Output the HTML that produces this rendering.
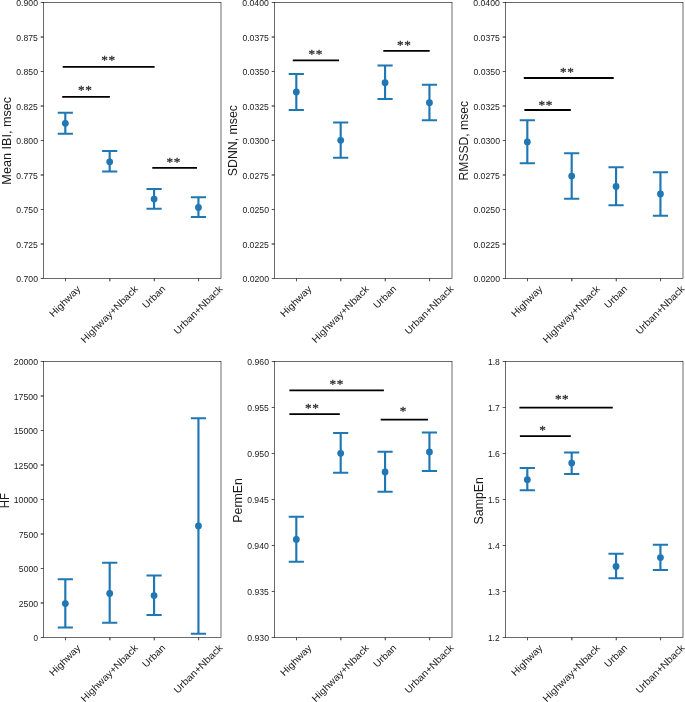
<!DOCTYPE html>
<html><head><meta charset="utf-8"><title>HRV metrics</title>
<style>
html,body{margin:0;padding:0;background:#fff;width:685px;height:702px;overflow:hidden}
svg{display:block;will-change:transform}
text{font-family:"Liberation Sans",sans-serif;fill:#1a1a1a}
.ast text{font-family:"Liberation Serif",serif;fill:#2a2a2a;stroke:#2a2a2a;stroke-width:0.3px;stroke-linejoin:round}
</style></head><body>
<svg width="685" height="702" viewBox="0 0 685 702">
<rect width="685" height="702" fill="#fff"/>
<rect x="43.5" y="2.5" width="177.5" height="276" fill="none" stroke="#000" stroke-width="0.58"/>
<path d="M65.49 278.5v2.8" stroke="#000" stroke-width="0.67"/>
<path d="M109.86 278.5v2.8" stroke="#000" stroke-width="0.87"/>
<path d="M154.24 278.5v2.8" stroke="#000" stroke-width="0.81"/>
<path d="M198.61 278.5v2.8" stroke="#000" stroke-width="0.73"/>
<path d="M43.5 2.5h-2.8" stroke="#000" stroke-width="0.66"/>
<path d="M43.5 37h-2.8" stroke="#000" stroke-width="0.95"/>
<path d="M43.5 71.5h-2.8" stroke="#000" stroke-width="0.66"/>
<path d="M43.5 106h-2.8" stroke="#000" stroke-width="0.95"/>
<path d="M43.5 140.5h-2.8" stroke="#000" stroke-width="0.66"/>
<path d="M43.5 175h-2.8" stroke="#000" stroke-width="0.95"/>
<path d="M43.5 209.5h-2.8" stroke="#000" stroke-width="0.66"/>
<path d="M43.5 244h-2.8" stroke="#000" stroke-width="0.95"/>
<path d="M43.5 278.5h-2.8" stroke="#000" stroke-width="0.66"/>
<rect x="274.5" y="2.5" width="177.5" height="276" fill="none" stroke="#000" stroke-width="0.58"/>
<path d="M296.49 278.5v2.8" stroke="#000" stroke-width="0.67"/>
<path d="M340.86 278.5v2.8" stroke="#000" stroke-width="0.87"/>
<path d="M385.24 278.5v2.8" stroke="#000" stroke-width="0.81"/>
<path d="M429.61 278.5v2.8" stroke="#000" stroke-width="0.73"/>
<path d="M274.5 2.5h-2.8" stroke="#000" stroke-width="0.66"/>
<path d="M274.5 37h-2.8" stroke="#000" stroke-width="0.95"/>
<path d="M274.5 71.5h-2.8" stroke="#000" stroke-width="0.66"/>
<path d="M274.5 106h-2.8" stroke="#000" stroke-width="0.95"/>
<path d="M274.5 140.5h-2.8" stroke="#000" stroke-width="0.66"/>
<path d="M274.5 175h-2.8" stroke="#000" stroke-width="0.95"/>
<path d="M274.5 209.5h-2.8" stroke="#000" stroke-width="0.66"/>
<path d="M274.5 244h-2.8" stroke="#000" stroke-width="0.95"/>
<path d="M274.5 278.5h-2.8" stroke="#000" stroke-width="0.66"/>
<rect x="505.5" y="2.5" width="177.5" height="276" fill="none" stroke="#000" stroke-width="0.58"/>
<path d="M527.49 278.5v2.8" stroke="#000" stroke-width="0.67"/>
<path d="M571.86 278.5v2.8" stroke="#000" stroke-width="0.87"/>
<path d="M616.24 278.5v2.8" stroke="#000" stroke-width="0.81"/>
<path d="M660.61 278.5v2.8" stroke="#000" stroke-width="0.73"/>
<path d="M505.5 2.5h-2.8" stroke="#000" stroke-width="0.66"/>
<path d="M505.5 37h-2.8" stroke="#000" stroke-width="0.95"/>
<path d="M505.5 71.5h-2.8" stroke="#000" stroke-width="0.66"/>
<path d="M505.5 106h-2.8" stroke="#000" stroke-width="0.95"/>
<path d="M505.5 140.5h-2.8" stroke="#000" stroke-width="0.66"/>
<path d="M505.5 175h-2.8" stroke="#000" stroke-width="0.95"/>
<path d="M505.5 209.5h-2.8" stroke="#000" stroke-width="0.66"/>
<path d="M505.5 244h-2.8" stroke="#000" stroke-width="0.95"/>
<path d="M505.5 278.5h-2.8" stroke="#000" stroke-width="0.66"/>
<rect x="43.5" y="361.5" width="177.5" height="276" fill="none" stroke="#000" stroke-width="0.58"/>
<path d="M65.49 637.5v2.8" stroke="#000" stroke-width="0.67"/>
<path d="M109.86 637.5v2.8" stroke="#000" stroke-width="0.87"/>
<path d="M154.24 637.5v2.8" stroke="#000" stroke-width="0.81"/>
<path d="M198.61 637.5v2.8" stroke="#000" stroke-width="0.73"/>
<path d="M43.5 361.5h-2.8" stroke="#000" stroke-width="0.66"/>
<path d="M43.5 396h-2.8" stroke="#000" stroke-width="0.95"/>
<path d="M43.5 430.5h-2.8" stroke="#000" stroke-width="0.66"/>
<path d="M43.5 465h-2.8" stroke="#000" stroke-width="0.95"/>
<path d="M43.5 499.5h-2.8" stroke="#000" stroke-width="0.66"/>
<path d="M43.5 534h-2.8" stroke="#000" stroke-width="0.95"/>
<path d="M43.5 568.5h-2.8" stroke="#000" stroke-width="0.66"/>
<path d="M43.5 603h-2.8" stroke="#000" stroke-width="0.95"/>
<path d="M43.5 637.5h-2.8" stroke="#000" stroke-width="0.66"/>
<rect x="274.5" y="361.5" width="177.5" height="276" fill="none" stroke="#000" stroke-width="0.58"/>
<path d="M296.49 637.5v2.8" stroke="#000" stroke-width="0.67"/>
<path d="M340.86 637.5v2.8" stroke="#000" stroke-width="0.87"/>
<path d="M385.24 637.5v2.8" stroke="#000" stroke-width="0.81"/>
<path d="M429.61 637.5v2.8" stroke="#000" stroke-width="0.73"/>
<path d="M274.5 361.5h-2.8" stroke="#000" stroke-width="0.66"/>
<path d="M274.5 407.5h-2.8" stroke="#000" stroke-width="0.66"/>
<path d="M274.5 453.5h-2.8" stroke="#000" stroke-width="0.66"/>
<path d="M274.5 499.5h-2.8" stroke="#000" stroke-width="0.66"/>
<path d="M274.5 545.5h-2.8" stroke="#000" stroke-width="0.66"/>
<path d="M274.5 591.5h-2.8" stroke="#000" stroke-width="0.66"/>
<path d="M274.5 637.5h-2.8" stroke="#000" stroke-width="0.66"/>
<rect x="505.5" y="361.5" width="177.5" height="276" fill="none" stroke="#000" stroke-width="0.58"/>
<path d="M527.49 637.5v2.8" stroke="#000" stroke-width="0.67"/>
<path d="M571.86 637.5v2.8" stroke="#000" stroke-width="0.87"/>
<path d="M616.24 637.5v2.8" stroke="#000" stroke-width="0.81"/>
<path d="M660.61 637.5v2.8" stroke="#000" stroke-width="0.73"/>
<path d="M505.5 361.5h-2.8" stroke="#000" stroke-width="0.66"/>
<path d="M505.5 407.5h-2.8" stroke="#000" stroke-width="0.66"/>
<path d="M505.5 453.5h-2.8" stroke="#000" stroke-width="0.66"/>
<path d="M505.5 499.5h-2.8" stroke="#000" stroke-width="0.66"/>
<path d="M505.5 545.5h-2.8" stroke="#000" stroke-width="0.66"/>
<path d="M505.5 591.5h-2.8" stroke="#000" stroke-width="0.66"/>
<path d="M505.5 637.5h-2.8" stroke="#000" stroke-width="0.66"/>
<path d="M65.32 112.7V133.7M109.69 151V171.6M154.07 189V208.7M198.44 197.2V216.9" stroke="#1f77b4" stroke-width="2.15" fill="none"/>
<path d="M57.72 112.7h15.2M57.72 133.7h15.2M102.09 151h15.2M102.09 171.6h15.2M146.47 189h15.2M146.47 208.7h15.2M190.84 197.2h15.2M190.84 216.9h15.2" stroke="#1f77b4" stroke-width="2.0" fill="none"/>
<g fill="#1f77b4"><circle cx="65.32" cy="123.3" r="3.4"/><circle cx="109.69" cy="161.8" r="3.4"/><circle cx="154.07" cy="199.1" r="3.4"/><circle cx="198.44" cy="207.5" r="3.4"/></g>
<path d="M296.32 74.1V110.1M340.69 122.6V157.8M385.07 65.4V99M429.44 84.8V120.2" stroke="#1f77b4" stroke-width="2.15" fill="none"/>
<path d="M288.72 74.1h15.2M288.72 110.1h15.2M333.09 122.6h15.2M333.09 157.8h15.2M377.47 65.4h15.2M377.47 99h15.2M421.84 84.8h15.2M421.84 120.2h15.2" stroke="#1f77b4" stroke-width="2.0" fill="none"/>
<g fill="#1f77b4"><circle cx="296.32" cy="91.9" r="3.4"/><circle cx="340.69" cy="140.3" r="3.4"/><circle cx="385.07" cy="82.7" r="3.4"/><circle cx="429.44" cy="102.7" r="3.4"/></g>
<path d="M527.32 120.15V163.2M571.69 153.3V198.7M616.07 167.2V205.3M660.44 172.2V215.8" stroke="#1f77b4" stroke-width="2.15" fill="none"/>
<path d="M519.72 120.15h15.2M519.72 163.2h15.2M564.09 153.3h15.2M564.09 198.7h15.2M608.47 167.2h15.2M608.47 205.3h15.2M652.84 172.2h15.2M652.84 215.8h15.2" stroke="#1f77b4" stroke-width="2.0" fill="none"/>
<g fill="#1f77b4"><circle cx="527.32" cy="142" r="3.4"/><circle cx="571.69" cy="176.1" r="3.4"/><circle cx="616.07" cy="186.4" r="3.4"/><circle cx="660.44" cy="193.9" r="3.4"/></g>
<path d="M65.32 579.2V627.6M109.69 562.7V622.7M154.07 575.4V615M198.44 418.3V633.7" stroke="#1f77b4" stroke-width="2.15" fill="none"/>
<path d="M57.72 579.2h15.2M57.72 627.6h15.2M102.09 562.7h15.2M102.09 622.7h15.2M146.47 575.4h15.2M146.47 615h15.2M190.84 418.3h15.2M190.84 633.7h15.2" stroke="#1f77b4" stroke-width="2.0" fill="none"/>
<g fill="#1f77b4"><circle cx="65.32" cy="603.6" r="3.4"/><circle cx="109.69" cy="593.4" r="3.4"/><circle cx="154.07" cy="595.6" r="3.4"/><circle cx="198.44" cy="526" r="3.4"/></g>
<path d="M296.32 516.7V561.8M340.69 433V472.8M385.07 451.7V491.7M429.44 432.6V470.9" stroke="#1f77b4" stroke-width="2.15" fill="none"/>
<path d="M288.72 516.7h15.2M288.72 561.8h15.2M333.09 433h15.2M333.09 472.8h15.2M377.47 451.7h15.2M377.47 491.7h15.2M421.84 432.6h15.2M421.84 470.9h15.2" stroke="#1f77b4" stroke-width="2.0" fill="none"/>
<g fill="#1f77b4"><circle cx="296.32" cy="539.5" r="3.4"/><circle cx="340.69" cy="453.3" r="3.4"/><circle cx="385.07" cy="471.9" r="3.4"/><circle cx="429.44" cy="451.9" r="3.4"/></g>
<path d="M527.32 468.1V490.3M571.69 452.4V473.9M616.07 553.65V578.35M660.44 544.7V569.9" stroke="#1f77b4" stroke-width="2.15" fill="none"/>
<path d="M519.72 468.1h15.2M519.72 490.3h15.2M564.09 452.4h15.2M564.09 473.9h15.2M608.47 553.65h15.2M608.47 578.35h15.2M652.84 544.7h15.2M652.84 569.9h15.2" stroke="#1f77b4" stroke-width="2.0" fill="none"/>
<g fill="#1f77b4"><circle cx="527.32" cy="479.7" r="3.4"/><circle cx="571.69" cy="463.1" r="3.4"/><circle cx="616.07" cy="566.4" r="3.4"/><circle cx="660.44" cy="557.6" r="3.4"/></g>
<path d="M62.7 66.85H154.6M62.2 96.9H109.9M152.3 167.9H197M292.8 60.3H339M383.3 50.9H429.7M523.8 78H613.7M524.4 110H570.8M289.4 390.4H383.9M289.4 414.1H339.8M380.7 419.6H428M519.4 407.6H612.8M519.9 436.1H570.8" stroke="#000" stroke-width="1.8" fill="none"/>
<g class="ast"><text x="101.29" y="64.17" font-size="13.2" letter-spacing="0.6">**</text><text x="77.99" y="94.22" font-size="13.2" letter-spacing="0.6">**</text><text x="166.49" y="166.12" font-size="13.2" letter-spacing="0.6">**</text><text x="308.59" y="58.12" font-size="13.2" letter-spacing="0.6">**</text><text x="397.09" y="48.52" font-size="13.2" letter-spacing="0.6">**</text><text x="559.99" y="76.02" font-size="13.2" letter-spacing="0.6">**</text><text x="538.49" y="108.52" font-size="13.2" letter-spacing="0.6">**</text><text x="329.49" y="387.92" font-size="13.2" letter-spacing="0.6">**</text><text x="305.09" y="412.02" font-size="13.2" letter-spacing="0.6">**</text><text x="399.69" y="414.82" font-size="13.2" letter-spacing="0.6">*</text><text x="554.89" y="403.02" font-size="13.2" letter-spacing="0.6">**</text><text x="539.29" y="433.92" font-size="13.2" letter-spacing="0.6">*</text></g>
<text x="53.36" y="317.53" font-size="9.75" textLength="39.44" lengthAdjust="spacingAndGlyphs" transform="rotate(-45 53.36 317.53)">Highway</text>
<text x="84.77" y="343.44" font-size="9.75" textLength="76.12" lengthAdjust="spacingAndGlyphs" transform="rotate(-45 84.77 343.44)">Highway+Nback</text>
<text x="146.36" y="308.99" font-size="9.75" textLength="27.69" lengthAdjust="spacingAndGlyphs" transform="rotate(-45 146.36 308.99)">Urban</text>
<text x="177.77" y="334.9" font-size="9.75" textLength="64.24" lengthAdjust="spacingAndGlyphs" transform="rotate(-45 177.77 334.9)">Urban+Nback</text>
<text x="16.28" y="282" font-size="8.16" textLength="21.7" lengthAdjust="spacingAndGlyphs">0.700</text>
<text x="16.28" y="247.5" font-size="8.16" textLength="21.56" lengthAdjust="spacingAndGlyphs">0.725</text>
<text x="16.28" y="213" font-size="8.16" textLength="21.7" lengthAdjust="spacingAndGlyphs">0.750</text>
<text x="16.28" y="178.5" font-size="8.16" textLength="21.56" lengthAdjust="spacingAndGlyphs">0.775</text>
<text x="16.28" y="144" font-size="8.16" textLength="21.7" lengthAdjust="spacingAndGlyphs">0.800</text>
<text x="16.28" y="109.5" font-size="8.16" textLength="21.56" lengthAdjust="spacingAndGlyphs">0.825</text>
<text x="16.28" y="75" font-size="8.16" textLength="21.7" lengthAdjust="spacingAndGlyphs">0.850</text>
<text x="16.28" y="40.5" font-size="8.16" textLength="21.56" lengthAdjust="spacingAndGlyphs">0.875</text>
<text x="16.28" y="6" font-size="8.16" textLength="21.7" lengthAdjust="spacingAndGlyphs">0.900</text>
<text x="10.61" y="184.65" font-size="12.3" textLength="87.84" lengthAdjust="spacingAndGlyphs" transform="rotate(-90 10.61 184.65)">Mean IBI, msec</text>
<text x="284.36" y="317.53" font-size="9.75" textLength="39.44" lengthAdjust="spacingAndGlyphs" transform="rotate(-45 284.36 317.53)">Highway</text>
<text x="315.77" y="343.44" font-size="9.75" textLength="76.12" lengthAdjust="spacingAndGlyphs" transform="rotate(-45 315.77 343.44)">Highway+Nback</text>
<text x="377.36" y="308.99" font-size="9.75" textLength="27.69" lengthAdjust="spacingAndGlyphs" transform="rotate(-45 377.36 308.99)">Urban</text>
<text x="408.77" y="334.9" font-size="9.75" textLength="64.24" lengthAdjust="spacingAndGlyphs" transform="rotate(-45 408.77 334.9)">Urban+Nback</text>
<text x="242.4" y="282" font-size="8.16" textLength="26.6" lengthAdjust="spacingAndGlyphs">0.0200</text>
<text x="242.4" y="247.5" font-size="8.16" textLength="26.46" lengthAdjust="spacingAndGlyphs">0.0225</text>
<text x="242.4" y="213" font-size="8.16" textLength="26.6" lengthAdjust="spacingAndGlyphs">0.0250</text>
<text x="242.4" y="178.5" font-size="8.16" textLength="26.46" lengthAdjust="spacingAndGlyphs">0.0275</text>
<text x="242.4" y="144" font-size="8.16" textLength="26.6" lengthAdjust="spacingAndGlyphs">0.0300</text>
<text x="242.4" y="109.5" font-size="8.16" textLength="26.46" lengthAdjust="spacingAndGlyphs">0.0325</text>
<text x="242.4" y="75" font-size="8.16" textLength="26.6" lengthAdjust="spacingAndGlyphs">0.0350</text>
<text x="242.4" y="40.5" font-size="8.16" textLength="26.46" lengthAdjust="spacingAndGlyphs">0.0375</text>
<text x="242.28" y="6" font-size="8.16" textLength="26.6" lengthAdjust="spacingAndGlyphs">0.0400</text>
<text x="236.61" y="176.23" font-size="12.3" textLength="71.28" lengthAdjust="spacingAndGlyphs" transform="rotate(-90 236.61 176.23)">SDNN, msec</text>
<text x="515.36" y="317.53" font-size="9.75" textLength="39.44" lengthAdjust="spacingAndGlyphs" transform="rotate(-45 515.36 317.53)">Highway</text>
<text x="546.77" y="343.44" font-size="9.75" textLength="76.12" lengthAdjust="spacingAndGlyphs" transform="rotate(-45 546.77 343.44)">Highway+Nback</text>
<text x="608.36" y="308.99" font-size="9.75" textLength="27.69" lengthAdjust="spacingAndGlyphs" transform="rotate(-45 608.36 308.99)">Urban</text>
<text x="639.77" y="334.9" font-size="9.75" textLength="64.24" lengthAdjust="spacingAndGlyphs" transform="rotate(-45 639.77 334.9)">Urban+Nback</text>
<text x="473.4" y="282" font-size="8.16" textLength="26.6" lengthAdjust="spacingAndGlyphs">0.0200</text>
<text x="473.4" y="247.5" font-size="8.16" textLength="26.46" lengthAdjust="spacingAndGlyphs">0.0225</text>
<text x="473.4" y="213" font-size="8.16" textLength="26.6" lengthAdjust="spacingAndGlyphs">0.0250</text>
<text x="473.4" y="178.5" font-size="8.16" textLength="26.46" lengthAdjust="spacingAndGlyphs">0.0275</text>
<text x="473.4" y="144" font-size="8.16" textLength="26.6" lengthAdjust="spacingAndGlyphs">0.0300</text>
<text x="473.4" y="109.5" font-size="8.16" textLength="26.46" lengthAdjust="spacingAndGlyphs">0.0325</text>
<text x="473.4" y="75" font-size="8.16" textLength="26.6" lengthAdjust="spacingAndGlyphs">0.0350</text>
<text x="473.4" y="40.5" font-size="8.16" textLength="26.46" lengthAdjust="spacingAndGlyphs">0.0375</text>
<text x="473.28" y="6" font-size="8.16" textLength="26.6" lengthAdjust="spacingAndGlyphs">0.0400</text>
<text x="467.61" y="180.42" font-size="12.3" textLength="79.41" lengthAdjust="spacingAndGlyphs" transform="rotate(-90 467.61 180.42)">RMSSD, msec</text>
<text x="53.36" y="676.53" font-size="9.75" textLength="39.44" lengthAdjust="spacingAndGlyphs" transform="rotate(-45 53.36 676.53)">Highway</text>
<text x="84.77" y="702.44" font-size="9.75" textLength="76.12" lengthAdjust="spacingAndGlyphs" transform="rotate(-45 84.77 702.44)">Highway+Nback</text>
<text x="146.36" y="667.99" font-size="9.75" textLength="27.69" lengthAdjust="spacingAndGlyphs" transform="rotate(-45 146.36 667.99)">Urban</text>
<text x="177.77" y="693.9" font-size="9.75" textLength="64.24" lengthAdjust="spacingAndGlyphs" transform="rotate(-45 177.77 693.9)">Urban+Nback</text>
<text x="33.43" y="641" font-size="8.16" textLength="4.51" lengthAdjust="spacingAndGlyphs">0</text>
<text x="18.74" y="606.5" font-size="8.16" textLength="19.3" lengthAdjust="spacingAndGlyphs">2500</text>
<text x="18.86" y="572" font-size="8.16" textLength="19.17" lengthAdjust="spacingAndGlyphs">5000</text>
<text x="18.8" y="537.5" font-size="8.16" textLength="19.23" lengthAdjust="spacingAndGlyphs">7500</text>
<text x="13.79" y="503" font-size="8.16" textLength="24.14" lengthAdjust="spacingAndGlyphs">10000</text>
<text x="13.79" y="468.5" font-size="8.16" textLength="24.14" lengthAdjust="spacingAndGlyphs">12500</text>
<text x="13.79" y="434" font-size="8.16" textLength="24.14" lengthAdjust="spacingAndGlyphs">15000</text>
<text x="13.79" y="399.5" font-size="8.16" textLength="24.14" lengthAdjust="spacingAndGlyphs">17500</text>
<text x="13.86" y="365" font-size="8.16" textLength="24.2" lengthAdjust="spacingAndGlyphs">20000</text>
<text x="9.01" y="508.17" font-size="12.3" textLength="14.95" lengthAdjust="spacingAndGlyphs" transform="rotate(-90 9.01 508.17)">HF</text>
<text x="284.36" y="676.53" font-size="9.75" textLength="39.44" lengthAdjust="spacingAndGlyphs" transform="rotate(-45 284.36 676.53)">Highway</text>
<text x="315.77" y="702.44" font-size="9.75" textLength="76.12" lengthAdjust="spacingAndGlyphs" transform="rotate(-45 315.77 702.44)">Highway+Nback</text>
<text x="377.36" y="667.99" font-size="9.75" textLength="27.69" lengthAdjust="spacingAndGlyphs" transform="rotate(-45 377.36 667.99)">Urban</text>
<text x="408.77" y="693.9" font-size="9.75" textLength="64.24" lengthAdjust="spacingAndGlyphs" transform="rotate(-45 408.77 693.9)">Urban+Nback</text>
<text x="247.28" y="641" font-size="8.16" textLength="21.7" lengthAdjust="spacingAndGlyphs">0.930</text>
<text x="247.28" y="595" font-size="8.16" textLength="21.56" lengthAdjust="spacingAndGlyphs">0.935</text>
<text x="247.15" y="549" font-size="8.16" textLength="21.7" lengthAdjust="spacingAndGlyphs">0.940</text>
<text x="247.16" y="503" font-size="8.16" textLength="21.56" lengthAdjust="spacingAndGlyphs">0.945</text>
<text x="247.28" y="457" font-size="8.16" textLength="21.7" lengthAdjust="spacingAndGlyphs">0.950</text>
<text x="247.28" y="411" font-size="8.16" textLength="21.56" lengthAdjust="spacingAndGlyphs">0.955</text>
<text x="247.28" y="365" font-size="8.16" textLength="21.7" lengthAdjust="spacingAndGlyphs">0.960</text>
<text x="242.39" y="522.7" font-size="12.3" textLength="44.57" lengthAdjust="spacingAndGlyphs" transform="rotate(-90 242.39 522.7)">PermEn</text>
<text x="515.36" y="676.53" font-size="9.75" textLength="39.44" lengthAdjust="spacingAndGlyphs" transform="rotate(-45 515.36 676.53)">Highway</text>
<text x="546.77" y="702.44" font-size="9.75" textLength="76.12" lengthAdjust="spacingAndGlyphs" transform="rotate(-45 546.77 702.44)">Highway+Nback</text>
<text x="608.36" y="667.99" font-size="9.75" textLength="27.69" lengthAdjust="spacingAndGlyphs" transform="rotate(-45 608.36 667.99)">Urban</text>
<text x="639.77" y="693.9" font-size="9.75" textLength="64.24" lengthAdjust="spacingAndGlyphs" transform="rotate(-45 639.77 693.9)">Urban+Nback</text>
<text x="487.94" y="641" font-size="8.16" textLength="11.69" lengthAdjust="spacingAndGlyphs">1.2</text>
<text x="487.93" y="595" font-size="8.16" textLength="11.8" lengthAdjust="spacingAndGlyphs">1.3</text>
<text x="487.81" y="549" font-size="8.16" textLength="11.87" lengthAdjust="spacingAndGlyphs">1.4</text>
<text x="487.94" y="503" font-size="8.16" textLength="11.72" lengthAdjust="spacingAndGlyphs">1.5</text>
<text x="487.93" y="457" font-size="8.16" textLength="11.95" lengthAdjust="spacingAndGlyphs">1.6</text>
<text x="487.93" y="411" font-size="8.16" textLength="11.82" lengthAdjust="spacingAndGlyphs">1.7</text>
<text x="487.93" y="365" font-size="8.16" textLength="11.9" lengthAdjust="spacingAndGlyphs">1.8</text>
<text x="483.01" y="524.43" font-size="12.3" textLength="47.43" lengthAdjust="spacingAndGlyphs" transform="rotate(-90 483.01 524.43)">SampEn</text>
</svg>
</body></html>
